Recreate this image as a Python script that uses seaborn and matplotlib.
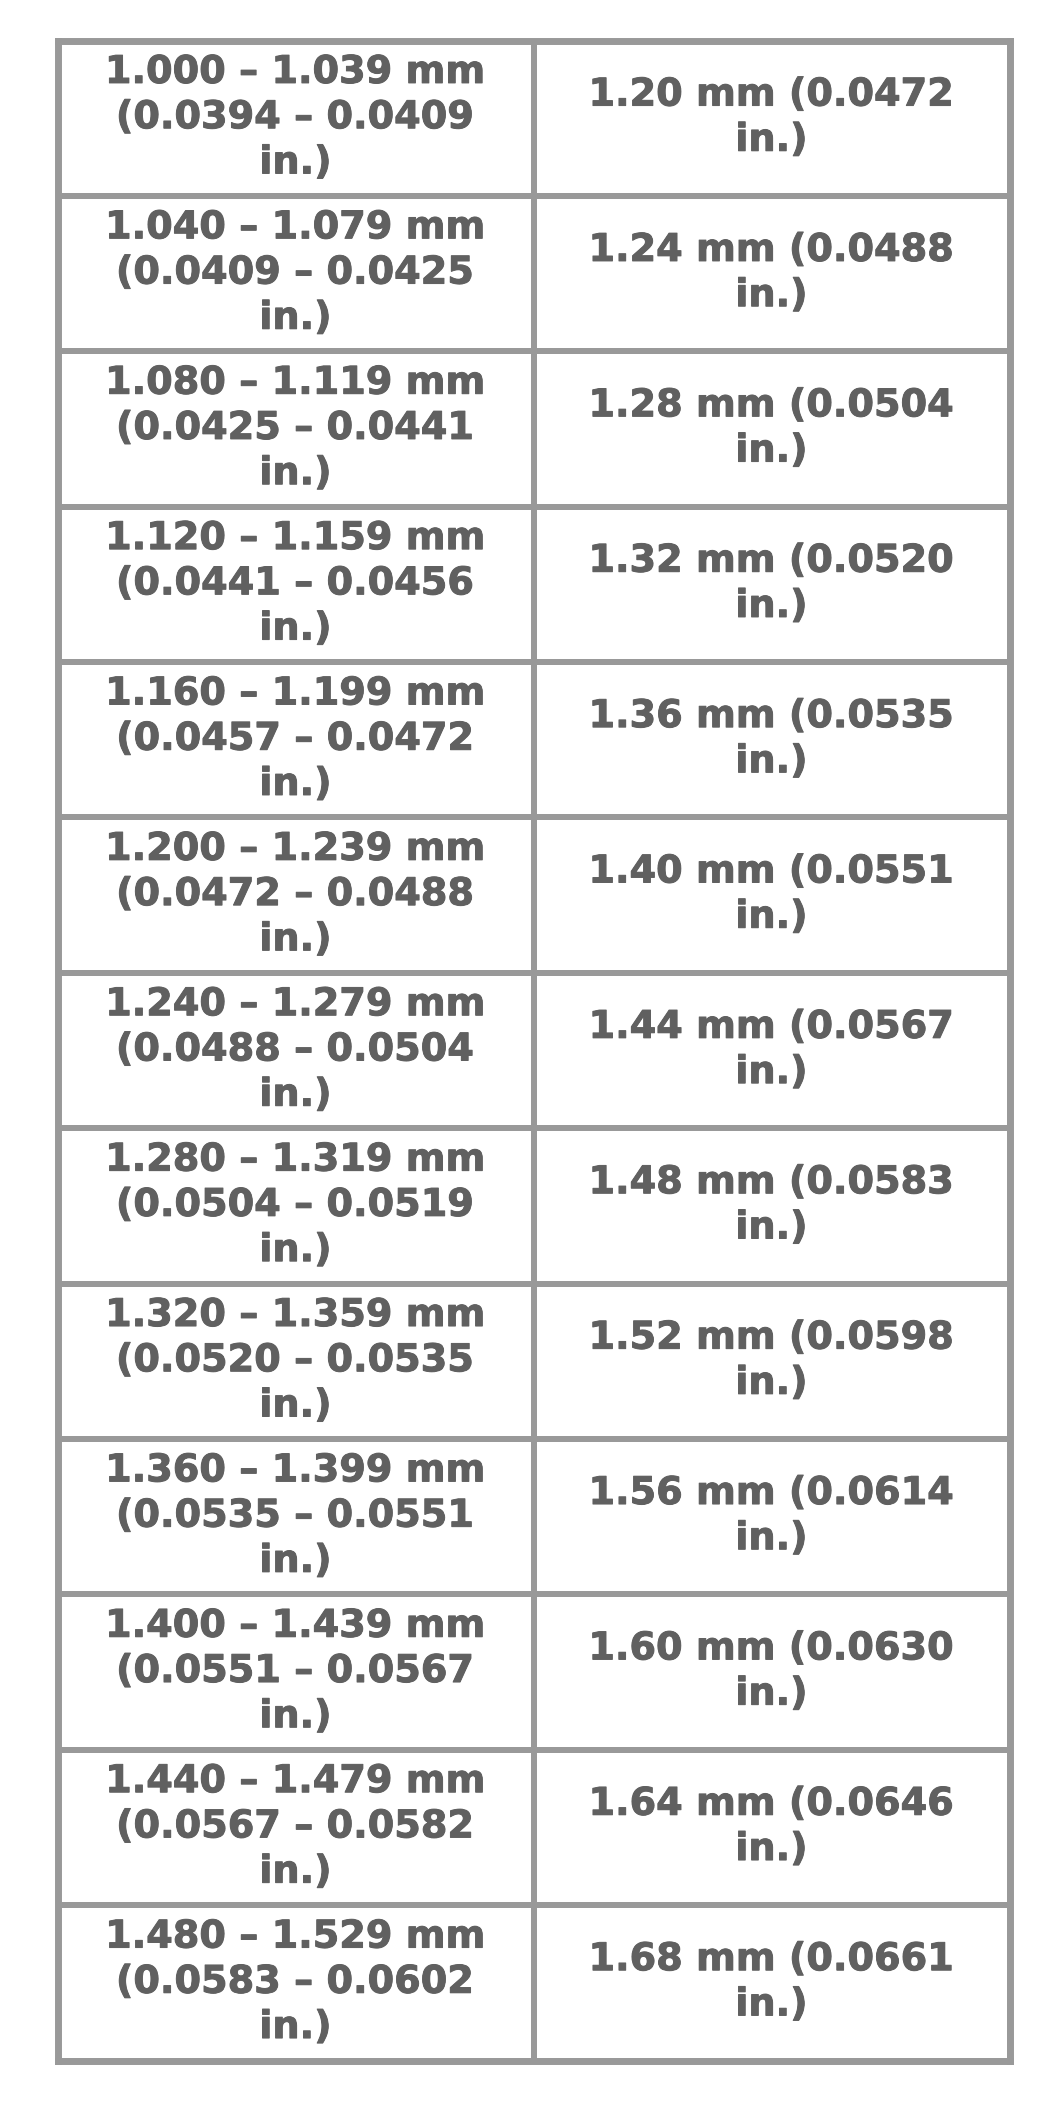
import numpy as np
import matplotlib
matplotlib.use("Agg")
import matplotlib.pyplot as plt
import matplotlib.patheffects as pe
import seaborn as sns
from matplotlib.colors import ListedColormap

# ----------------------------------------------------------
# Table data (kept as strings to keep trailing zeros)
# ----------------------------------------------------------
range_mm_lo = ["1.000", "1.040", "1.080", "1.120", "1.160", "1.200", "1.240",
               "1.280", "1.320", "1.360", "1.400", "1.440", "1.480"]
range_mm_hi = ["1.039", "1.079", "1.119", "1.159", "1.199", "1.239", "1.279",
               "1.319", "1.359", "1.399", "1.439", "1.479", "1.529"]
range_in_lo = ["0.0394", "0.0409", "0.0425", "0.0441", "0.0457", "0.0472", "0.0488",
               "0.0504", "0.0520", "0.0535", "0.0551", "0.0567", "0.0583"]
range_in_hi = ["0.0409", "0.0425", "0.0441", "0.0456", "0.0472", "0.0488", "0.0504",
               "0.0519", "0.0535", "0.0551", "0.0567", "0.0582", "0.0602"]
size_mm = ["1.20", "1.24", "1.28", "1.32", "1.36", "1.40", "1.44",
           "1.48", "1.52", "1.56", "1.60", "1.64", "1.68"]
size_in = ["0.0472", "0.0488", "0.0504", "0.0520", "0.0535", "0.0551", "0.0567",
           "0.0583", "0.0598", "0.0614", "0.0630", "0.0646", "0.0661"]

# Build cell labels
left_labels = [f"{a} \u2013 {b} mm\n({c} \u2013 {d}\nin.)"
               for a, b, c, d in zip(range_mm_lo, range_mm_hi, range_in_lo, range_in_hi)]
right_labels = [f"{a} mm ({b}\nin.)" for a, b in zip(size_mm, size_in)]

labels = np.array([left_labels, right_labels]).T
values = np.zeros(labels.shape)

# ----------------------------------------------------------
# Draw table as a heatmap
# ----------------------------------------------------------
line_color = "#999999"
text_color = "#606060"

fig = plt.figure(figsize=(10.62, 21.03), dpi=100)
ax = fig.add_axes([57.5 / 1062, 42.5 / 2103, 952 / 1062, 2020 / 2103])

sns.heatmap(values,
            annot=labels,
            fmt="",
            cmap=ListedColormap(["white"]),
            cbar=False,
            linewidths=4.3,
            linecolor=line_color,
            xticklabels=False,
            yticklabels=False,
            annot_kws={"fontsize": 27.5,
                       "fontweight": "bold",
                       "color": text_color,
                       "linespacing": 1.33,
                       "family": "DejaVu Sans",
                       "path_effects": [pe.withStroke(linewidth=0.7,
                                                      foreground=text_color)]},
            ax=ax)

# Outer border
for spine in ax.spines.values():
    spine.set_visible(True)
    spine.set_color(line_color)
    spine.set_linewidth(5.0)

ax.tick_params(length=0)

fig.savefig("out.png", dpi=100, facecolor="white")
